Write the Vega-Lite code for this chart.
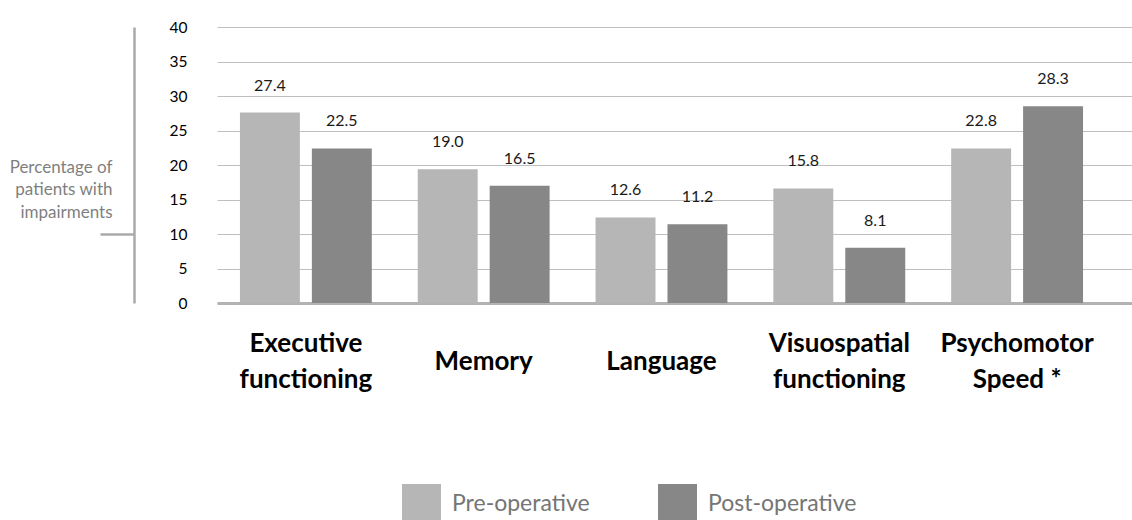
{
  "$schema": "https://vega.github.io/schema/vega-lite/v6.json",
  "width": 915,
  "height": 276,
  "autosize": {"type": "none"},
  "padding": {"left": 217, "top": 27, "right": 0, "bottom": 217},
  "background": "white",
  "config": {"view": {"stroke": null}, "font": "Lato"},
  "data": {
    "values": [
      {"domain": "Executive functioning", "phase": "Pre-operative", "bar": 27.6, "label": "27.4"},
      {"domain": "Executive functioning", "phase": "Post-operative", "bar": 22.4, "label": "22.5"},
      {"domain": "Memory", "phase": "Pre-operative", "bar": 19.4, "label": "19.0"},
      {"domain": "Memory", "phase": "Post-operative", "bar": 17.0, "label": "16.5"},
      {"domain": "Language", "phase": "Pre-operative", "bar": 12.4, "label": "12.6"},
      {"domain": "Language", "phase": "Post-operative", "bar": 11.4, "label": "11.2"},
      {"domain": "Visuospatial functioning", "phase": "Pre-operative", "bar": 16.6, "label": "15.8"},
      {"domain": "Visuospatial functioning", "phase": "Post-operative", "bar": 8.0, "label": "8.1"},
      {"domain": "Psychomotor Speed *", "phase": "Pre-operative", "bar": 22.4, "label": "22.8"},
      {"domain": "Psychomotor Speed *", "phase": "Post-operative", "bar": 28.5, "label": "28.3"}
    ]
  },
  "encoding": {
    "x": {
      "field": "domain",
      "type": "nominal",
      "sort": null,
      "scale": {"paddingInner": 0.2584, "paddingOuter": 0.2022, "align": 0.319},
      "axis": {
        "orient": "bottom",
        "title": null,
        "domain": true,
        "domainColor": "#b3b3b3",
        "domainWidth": 3,
        "ticks": false,
        "tickSize": 0,
        "labelAngle": 0,
        "labelFont": "Lato",
        "labelFontWeight": "bold",
        "labelFontSize": 26,
        "labelColor": "#000000",
        "labelBaseline": "middle",
        "labelLineHeight": 18,
        "labelPadding": 40,
        "labelOverlap": false,
        "labelExpr": "datum.label == 'Executive functioning' ? ['Executive', '\u200b', 'functioning'] : datum.label == 'Visuospatial functioning' ? ['Visuospatial', '\u200b', 'functioning'] : datum.label == 'Psychomotor Speed *' ? ['Psychomotor', '\u200b', 'Speed *'] : ['\u200b', datum.label]"
      }
    },
    "xOffset": {
      "field": "phase",
      "type": "nominal",
      "sort": ["Pre-operative", "Post-operative"],
      "scale": {"paddingInner": 0.1667, "paddingOuter": 0}
    }
  },
  "layer": [
    {
      "mark": {"type": "bar"},
      "encoding": {
        "y": {
          "field": "bar",
          "type": "quantitative",
          "scale": {"domain": [0, 40], "nice": false},
          "axis": {
            "orient": "left",
            "title": null,
            "values": [0, 5, 10, 15, 20, 25, 30, 35, 40],
            "domain": false,
            "ticks": false,
            "tickSize": 0,
            "labelPadding": 30,
            "labelFont": "Lato",
            "labelFontSize": 15.5,
            "labelColor": "#000000",
            "grid": true,
            "gridColor": "#bfbfbf",
            "gridWidth": 1
          }
        },
        "color": {
          "field": "phase",
          "type": "nominal",
          "sort": ["Pre-operative", "Post-operative"],
          "scale": {"domain": ["Pre-operative", "Post-operative"], "range": ["#b5b6b5", "#878787"]},
          "legend": {
            "orient": "none",
            "legendX": 185,
            "legendY": 457,
            "direction": "horizontal",
            "title": null,
            "symbolType": "square",
            "symbolSize": 1521,
            "symbolStrokeWidth": 0,
            "symbolOpacity": 1,
            "labelFont": "Lato",
            "labelFontSize": 23,
            "labelColor": "#757575",
            "labelOffset": 11,
            "columnPadding": 68,
            "padding": 0
          }
        }
      }
    },
    {
      "mark": {"type": "text", "dy": -22, "baseline": "alphabetic", "align": "center", "font": "Lato", "fontSize": 16, "color": "#1a1a1a"},
      "encoding": {
        "y": {
          "field": "bar",
          "type": "quantitative",
          "scale": {"domain": [0, 40], "nice": false},
          "axis": {
            "orient": "left",
            "offset": 83,
            "values": [10],
            "domain": true,
            "domainColor": "#aaaaaa",
            "domainWidth": 2.5,
            "ticks": true,
            "tickSize": 34,
            "tickColor": "#aaaaaa",
            "tickWidth": 2.5,
            "labels": false,
            "grid": false,
            "title": ["Percentage of", "patients with", "impairments"],
            "titleAngle": 0,
            "titleAlign": "right",
            "titleBaseline": "alphabetic",
            "titleX": -22,
            "titleY": 145,
            "titleFont": "Lato",
            "titleFontSize": 17,
            "titleFontWeight": "normal",
            "titleColor": "#7f7f7f",
            "titleLineHeight": 22.5
          }
        },
        "text": {"field": "label", "type": "nominal"}
      }
    }
  ],
  "resolve": {"axis": {"y": "independent"}}
}
